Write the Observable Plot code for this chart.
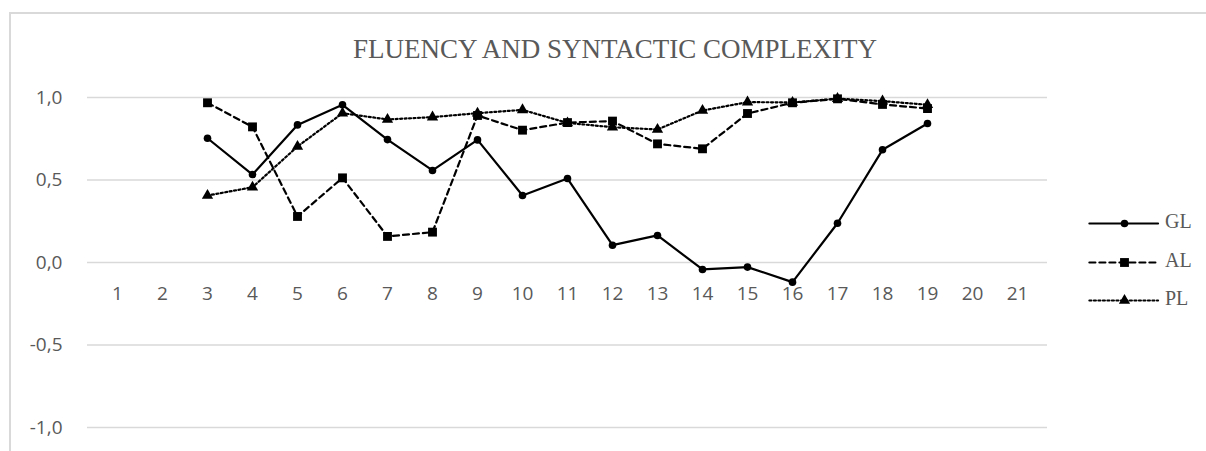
<!DOCTYPE html>
<html><head><meta charset="utf-8">
<script src="https://cdn.jsdelivr.net/npm/d3@7"></script>
<script src="https://cdn.jsdelivr.net/npm/@observablehq/plot@0.6"></script>
<style>
body{margin:0;background:#fff;}
#wrap{position:relative;width:1206px;height:451px;overflow:hidden;background:#fff;}
#frame{position:absolute;left:9px;top:12px;width:1300px;height:600px;border-top:2px solid #d9d9d9;border-left:2px solid #d9d9d9;}
#chart{position:absolute;left:0;top:0;}
#title{position:absolute;top:34px;left:0;width:1230px;text-align:center;font-family:"Liberation Serif",serif;font-size:27px;line-height:30px;color:#595959;white-space:nowrap;}
.leg{position:absolute;left:1085px;width:120px;height:30px;}
.leg span{position:absolute;left:80px;top:2px;font-family:"Liberation Serif",serif;font-size:20px;color:#595959;}
</style></head>
<body>
<div id="wrap">
<div id="frame"></div>
<div id="chart"></div>
<div id="title">FLUENCY AND SYNTACTIC COMPLEXITY</div>
<div id="legend"></div>
</div>
<script>
const categories = [1,2,3,4,5,6,7,8,9,10,11,12,13,14,15,16,17,18,19,20,21];
const seriesNames = ["GL","AL","PL"];
const glValues = [null,null,0.753,0.533,0.834,0.956,0.745,0.558,0.743,0.406,0.509,0.105,0.164,-0.042,-0.028,-0.119,0.238,0.683,0.842,null,null];
const alValues = [null,null,0.968,0.822,0.279,0.513,0.158,0.184,0.891,0.802,0.848,0.857,0.719,0.689,0.903,0.968,0.992,0.958,0.933,null,null];
const plValues = [null,null,0.406,0.456,0.703,0.905,0.867,0.881,0.905,0.925,0.846,0.820,0.806,0.921,0.972,0.970,0.993,0.978,0.956,null,null];
const yTicks = [-1,-0.5,0,0.5,1];

const valuesBySeries = {GL: glValues, AL: alValues, PL: plValues};
const styles = {
  GL: {dash: null, symbol: "circle", r: 3.8},
  AL: {dash: "6,4", symbol: "square", r: 5},
  PL: {dash: "2,2.5", symbol: "triangle", r: 4.2}
};
const rows = [];
for (const s of seriesNames) {
  valuesBySeries[s].forEach((v, i) => { if (v != null) rows.push({series: s, cat: categories[i], value: v}); });
}
const fmt = d => d.toFixed(1).replace(".", ",");

const marks = [
  Plot.ruleY(yTicks, {stroke: "#d9d9d9", strokeWidth: 1.5}),
  Plot.axisY({ticks: yTicks, tickSize: 0, tickPadding: 25, tickFormat: fmt, fontSize: 19, fill: "#595959", label: null}),
  Plot.text(categories, {x: d => d, y: 0, dy: 31, text: d => String(d), fontSize: 19, fill: "#595959"})
];
for (const s of seriesNames) {
  const data = rows.filter(r => r.series === s);
  const st = styles[s];
  marks.push(Plot.line(data, {x: "cat", y: "value", stroke: "#000", strokeWidth: 2.2, strokeDasharray: st.dash || undefined}));
  marks.push(Plot.dot(data, {x: "cat", y: "value", symbol: () => st.symbol, r: st.r, fill: "#000", stroke: "none"}));
}

const chart = Plot.plot({
  width: 1206, height: 451,
  marginLeft: 87, marginRight: 159, marginTop: 97, marginBottom: 24,
  style: {fontFamily: "'Open Sans', sans-serif", background: "transparent", overflow: "visible"},
  x: {type: "point", domain: categories, padding: 0.5, axis: null},
  y: {domain: [-1, 1], label: null},
  symbol: {domain: ["circle","square","triangle"], range: ["circle","square","triangle"]},
  marks
});
document.getElementById("chart").appendChild(chart);

// legend
const legTops = {GL: 208, AL: 247, PL: 285};
const leg = document.getElementById("legend");
for (const s of seriesNames) {
  const st = styles[s];
  const div = document.createElement("div");
  div.className = "leg";
  div.style.top = legTops[s] + "px";
  const sw = Plot.plot({
    width: 78, height: 30, margin: 0,
    x: {domain: [0, 1], axis: null}, y: {domain: [0, 1], axis: null},
    style: {background: "transparent"},
    symbol: {domain: ["circle","square","triangle"], range: ["circle","square","triangle"]},
    marks: [
      Plot.line([[0.05, 0.5], [0.93, 0.5]], {stroke: "#000", strokeWidth: 2.2, strokeDasharray: st.dash || undefined}),
      Plot.dot([[0.5, 0.5]], {symbol: () => st.symbol, r: st.r, fill: "#000", stroke: "none"})
    ]
  });
  div.appendChild(sw);
  const t = document.createElement("span");
  t.textContent = s;
  div.appendChild(t);
  leg.appendChild(div);
}
</script>
</body></html>
